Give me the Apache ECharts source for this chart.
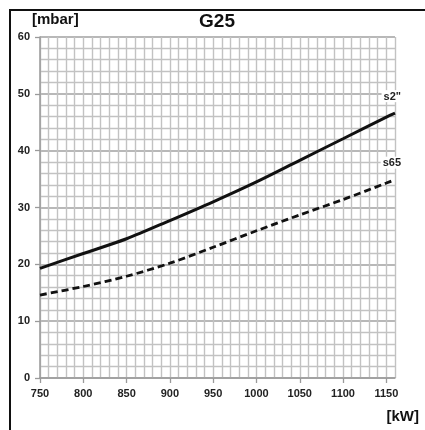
<!DOCTYPE html>
<html>
<head>
<meta charset="utf-8">
<title>G25</title>
<script src="https://cdn.jsdelivr.net/npm/echarts@6/dist/echarts.min.js"></script>
<style>
  html, body { margin: 0; padding: 0; background: #fff; }
  #chart { width: 425px; height: 430px; }
</style>
</head>
<body>
<div id="chart"></div>
<script>
// Gas pressure (mbar) against burner output (kW), natural gas G25
const powerKW = [750, 800, 850, 900, 950, 1000, 1050, 1100, 1150, 1160];
const pressureS2 = [19.3, 21.9, 24.5, 27.7, 31.0, 34.5, 38.3, 42.1, 45.9, 46.6];
const pressureS65 = [14.6, 16.1, 17.9, 20.2, 23.0, 25.9, 28.7, 31.4, 34.3, 34.9];
const seriesNames = ['s2"', 's65'];
const xTickValues = [750, 800, 850, 900, 950, 1000, 1050, 1100, 1150];

const FONT = '"Liberation Sans", Arial, sans-serif';
const X_MIN = 750, X_MAX = 1160;

function toPairs(values) {
  return powerKW.map((x, i) => [x, values[i]]);
}

function endLabel(name) {
  return {
    show: true,
    formatter: name,
    distance: 0,
    align: 'right',
    verticalAlign: 'bottom',
    offset: [8, -11],
    fontFamily: FONT,
    fontWeight: 'bold',
    fontSize: 11,
    color: '#222',
    backgroundColor: '#fff',
    padding: [1, 2, 0, 2]
  };
}

const chart = echarts.init(document.getElementById('chart'), null, { renderer: 'canvas' });

chart.setOption({
  animation: false,
  backgroundColor: '#fff',
  grid: { left: 40, right: 30, top: 37, bottom: 52, containLabel: false },
  xAxis: [
    {
      // fine 10 kW grid
      type: 'value',
      min: X_MIN,
      max: X_MAX,
      interval: 10,
      axisLine: { show: false },
      axisTick: { show: false },
      axisLabel: { show: false },
      splitLine: { show: true, lineStyle: { color: '#c2c2c2', width: 1.4 } }
    },
    {
      // labelled ticks every 50 kW
      type: 'value',
      min: X_MIN,
      max: X_MAX,
      interval: 10,
      position: 'bottom',
      axisLine: { show: true, lineStyle: { color: '#9a9a9a', width: 1.5 } },
      axisTick: {
        show: true,
        customValues: xTickValues,
        length: 5,
        lineStyle: { color: '#9a9a9a', width: 1.3 }
      },
      axisLabel: {
        show: true,
        customValues: xTickValues,
        formatter: v => String(v),
        margin: 10,
        fontFamily: FONT,
        fontWeight: 'bold',
        fontSize: 11,
        color: '#222'
      },
      splitLine: { show: false }
    }
  ],
  yAxis: {
    type: 'value',
    min: 0,
    max: 60,
    interval: 10,
    axisLine: { show: true, lineStyle: { color: '#9a9a9a', width: 1.5 } },
    axisTick: { show: true, length: 5, lineStyle: { color: '#9a9a9a', width: 1.3 } },
    axisLabel: {
      margin: 10,
      fontFamily: FONT,
      fontWeight: 'bold',
      fontSize: 11,
      color: '#222'
    },
    splitLine: { show: true, lineStyle: { color: '#a0a0a0', width: 1.6 } },
    minorTick: { show: false, splitNumber: 5 },
    minorSplitLine: { show: true, lineStyle: { color: '#c2c2c2', width: 1.4 } }
  },
  graphic: [
    {
      type: 'rect',
      shape: { x: 10, y: 10, width: 600, height: 600 },
      style: { fill: 'none', stroke: '#111', lineWidth: 2 },
      silent: true
    },
    {
      type: 'text',
      x: 217, y: 22,
      style: {
        text: 'G25', fontFamily: FONT, fontWeight: 'bold', fontSize: 19,
        fill: '#111', align: 'center', verticalAlign: 'middle'
      }
    },
    {
      type: 'text',
      x: 32, y: 20,
      style: {
        text: '[mbar]', fontFamily: FONT, fontWeight: 'bold', fontSize: 15,
        fill: '#111', align: 'left', verticalAlign: 'middle'
      }
    },
    {
      type: 'text',
      x: 419, y: 417,
      style: {
        text: '[kW]', fontFamily: FONT, fontWeight: 'bold', fontSize: 15,
        fill: '#111', align: 'right', verticalAlign: 'middle'
      }
    }
  ],
  series: [
    {
      name: seriesNames[0],
      type: 'line',
      xAxisIndex: 0,
      smooth: 0.3,
      showSymbol: false,
      clip: false,
      lineStyle: { color: '#111', width: 3 },
      endLabel: endLabel(seriesNames[0]),
      data: toPairs(pressureS2)
    },
    {
      name: seriesNames[1],
      type: 'line',
      xAxisIndex: 0,
      smooth: 0.3,
      showSymbol: false,
      clip: false,
      lineStyle: { color: '#111', width: 2.8, type: [7, 4] },
      endLabel: endLabel(seriesNames[1]),
      data: toPairs(pressureS65)
    }
  ]
});
</script>
</body>
</html>
